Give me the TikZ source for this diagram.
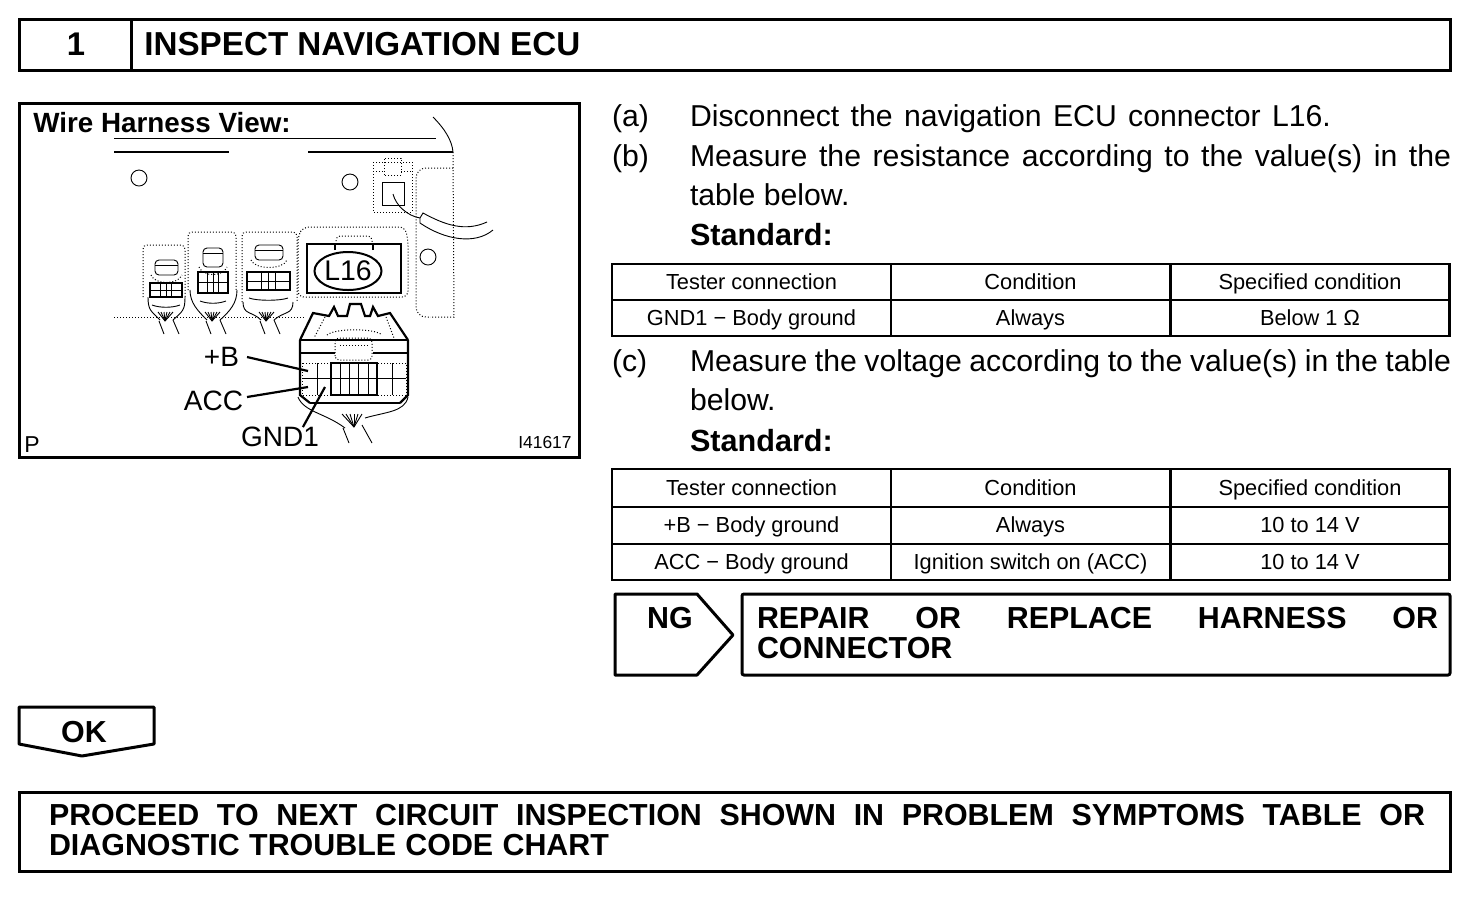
\documentclass[tikz,border=0pt]{standalone}
\usepackage{fontspec}
\usetikzlibrary{shapes.geometric}
\setmainfont{Liberation Sans}
\begin{document}
\begin{tikzpicture}[x=0.5pt,y=-0.5pt,>=latex]
        % Styles
        \tikzstyle{frame} = [rectangle, draw, line width=1.5pt, inner sep=0pt, outer sep=0pt]
        \tikzstyle{cell} = [rectangle, draw, line width=1.1pt, inner sep=0pt, outer sep=0pt,
                            minimum width=139.5pt, text height=9pt, text depth=1.6pt,
                            font=\fontsize{10.9}{13}\selectfont]
        \tikzstyle{body} = [inner sep=0pt, outer sep=0pt, anchor=north west,
                            font=\fontsize{15.1}{19.8}\selectfont]
        \tikzstyle{strong} = [inner sep=0pt, outer sep=0pt, anchor=north west, align=left,
                              font=\bfseries\fontsize{15.2}{15}\selectfont]
        \tikzstyle{wire} = [line width=0.45pt]
        \tikzstyle{shell} = [line width=0.5pt, densely dotted]
        \tikzstyle{heavy} = [line width=1.1pt]
        \tikzstyle{callout} = [inner sep=0pt, outer sep=0pt, font=\fontsize{14}{16}\selectfont]
        \useasboundingbox (0,0) rectangle (1472,902);

        % ==== Title bar ====
        \node[frame, minimum width=56pt, minimum height=25.5pt, font=\bfseries\fontsize{16.4}{18}\selectfont] (stepno) at (75,44.5) {\hspace{1pt}1};
        \node[frame, minimum width=659.5pt, minimum height=25.5pt] (steptitle) at (790.5,44.5) {};
        \node[inner sep=0pt, anchor=west, font=\bfseries\fontsize{16.6}{18}\selectfont] (titletext) at (144,44.5) {INSPECT NAVIGATION ECU};

        % ==== Harness view frame ====
        \node[frame, minimum width=280pt, minimum height=177pt] (view) at (299,280) {};
        \node[inner sep=0pt, anchor=west, font=\bfseries\fontsize{13.9}{16}\selectfont] (viewtitle) at (33,123) {Wire Harness View:};
        \node[inner sep=0pt, anchor=west, font=\fontsize{11.5}{13}\selectfont] (pmark) at (24,445) {P};
        \node[inner sep=0pt, anchor=east, font=\fontsize{8.7}{11}\selectfont] (artno) at (572,442) {I41617};

        % Panel
        \draw[wire] (114,138) -- (436,138);
        \draw[line width=0.8pt] (114,152) -- (229,152);
        \draw[line width=0.8pt] (308,152) -- (453,152);
        \draw[wire] (433,117) .. controls (444,128) and (452,140) .. (453,152);
        \draw[shell] (453,152) -- (454,317) -- (430,317);
        \draw[shell,rounded corners=5pt] (453,168) -- (416,168) -- (416,317) -- (430,317);
        \draw[shell] (114,317) -- (305,317);
        \draw[wire] (139,178) circle [radius=8];
        \draw[wire] (350,182) circle [radius=8];
        \draw[wire] (428,257) circle [radius=8];

        % Small clip and cable
        \draw[shell] (373,162) rectangle (412,212);
        \draw[shell] (373,171) -- (384,171) (401,171) -- (412,171);
        \draw[shell] (384,175) -- (384,158) -- (401,158) -- (401,175) -- cycle;
        \draw[wire] (382,182) rectangle (404,205);
        \draw[wire] (393,194) .. controls (396,206) and (408,216) .. (420,218);
        \draw[wire] (420,218) -- (423,213) .. controls (445,225) and (465,232) .. (487,222);
        \draw[wire] (420,218) -- (420,223) .. controls (445,240) and (475,245) .. (493,230);

        % Small connectors
        \foreach \lft/\rgt/\ctop/\tabl/\tabr/\tabt/\tabb/\grl/\grr/\grt/\grb/\bul/\bur/\buy/\nk in
            {143/185/245/155/178/260/275/150/182/283/297/148/185/297/165,
             188/236/232/203/223/248/267/198/228/272/293/190/237/290/212,
             242/297/232/255/283/245/260/247/290/272/290/243/293/302/266}{
            \draw[shell,rounded corners=2pt] (\lft,\buy) -- (\lft,\ctop) -- (\rgt,\ctop) -- (\rgt,\buy);
            \draw[wire,rounded corners=2pt] (\tabl,\tabb) -- (\tabl,\tabt) -- (\tabr,\tabt) -- (\tabr,\tabb) -- cycle;
            \draw[wire] (\tabl,\tabt+5) -- (\tabr,\tabt+5);
            \draw[shell] (\tabl-4,\tabb) .. controls (\tabl,\tabb+10) and (\tabr,\tabb+10) .. (\tabr+4,\tabb);
            \draw[line width=0.6pt] (\grl,\grt) rectangle (\grr,\grb);
            \draw[wire] (\grl,\grt*0.5+\grb*0.5) -- (\grr,\grt*0.5+\grb*0.5);
            \foreach \k in {0.33,0.5,0.67}
                \draw[wire] (\grl+\grr*\k-\grl*\k,\grt) -- (\grl+\grr*\k-\grl*\k,\grb);
            \draw[wire] (\grl+2,\grb+8) .. controls (\grl+10,\grb+11) and (\grr-10,\grb+11) .. (\grr-2,\grb+8);
            \draw[wire] (\bul,\buy) .. controls (\bul,\buy+13) and (\nk-14,311) .. (\nk-5,320);
            \draw[wire] (\bur,\buy) .. controls (\bur,\buy+13) and (\nk+18,311) .. (\nk+8,320);
            \foreach \k in {-7,-4,-1,2,5,8}
                \draw[wire] (\nk,321) -- (\nk+\k,312);
            \draw[wire] (\nk-6,321) -- (\nk-1,334);
            \draw[wire] (\nk+8,320) -- (\nk+14,334);
        }

        % L16 housing
        \draw[shell,rounded corners=3pt] (298,297) -- (298,236) -- (303,227) -- (405,227) -- (408,240) -- (408,297) -- cycle;
        \draw[line width=1pt] (307,293) rectangle (401,244);
        \draw[line width=1pt] (335,250) -- (335,244) (373,250) -- (373,244);
        \draw[shell,rounded corners=2pt] (336,244) -- (336,236) -- (372,236) -- (372,244);
        \node[ellipse, draw, line width=1pt, minimum width=33pt, minimum height=19pt, inner sep=0pt, fill=white, font=\fontsize{14.2}{17}\selectfont] (tagname) at (348,271) {L16};

        % Main connector
        \draw[heavy] (300,340) -- (313,313) -- (329,316) -- (334,307) -- (338,316) -- (347,316) -- (350,304) -- (361,304) -- (365,316) -- (370,316) -- (373,307) -- (378,316) -- (390,313) -- (408,340);
        \draw[heavy] (300,340) -- (408,340);
        \draw[heavy] (300,353) -- (335,353) (373,353) -- (408,353);
        \draw[heavy] (300,340) -- (300,395) -- (310,403);
        \draw[heavy] (408,340) -- (408,395) -- (400,403);
        \draw[line width=1.4pt] (310,403) -- (400,403);
        \draw[shell] (327,335) .. controls (335,328) and (375,328) .. (382,335);
        \draw[shell] (325,317) -- (314,338) (386,317) -- (394,338);
        \draw[shell,rounded corners=2pt] (335,360) -- (335,338) -- (372,338) -- (372,360) -- cycle;
        \draw[shell] (340,345) -- (368,345);
        \draw[shell] (302,363) rectangle (406,395);
        \draw[line width=0.6pt] (331,363) rectangle (377,395);
        \foreach \gx in {317,340,349,358,368,392}
            \draw[wire] (\gx,363) -- (\gx,395);
        \draw[wire] (302,378) -- (406,378);
        \draw[wire] (298,397) .. controls (304,412) and (325,413) .. (345,428);
        \draw[wire] (408,397) .. controls (405,412) and (385,412) .. (365,418);
        \foreach \k in {-12,-8,-4,0,4,8}
            \draw[wire] (354,427) -- (354+\k,414);
        \draw[wire] (343,428) -- (349,443);
        \draw[wire] (362,425) -- (372,443);

        % Callouts
        \node[callout, anchor=east] (plusb) at (239,357) {+B};
        \node[callout, anchor=east] (accpin) at (243,401) {ACC};
        \node[callout] (gndpin) at (280,437) {GND1};
        \coordinate (plusbend) at (308,371);
        \coordinate (accend) at (308,387);
        \coordinate (gndend) at (325,387);
        \draw[heavy] (plusb.east) ++(8,0) -- (plusbend);
        \draw[heavy] (accpin.east) ++(4,-4) -- (accend);
        \draw[heavy] (gndpin.north east) ++(-16,0) -- (gndend);

        % ==== Procedure text ====
        \node[body] (itema) at (612,104.5) {(a)};
        \node[body] (texta) at (690,104.5) {\makebox[320.5pt][s]{Disconnect the navigation ECU connector L16.}};
        \node[body] (itemb) at (612,144.5) {(b)};
        \node[body, text width=380.5pt, align=justify] (textb) at (690,144.5) {Measure the resistance according to the value(s) in the table below.};
        \node[body, font=\bfseries\fontsize{15.3}{19.8}\selectfont] (stda) at (690,223.5) {Standard:};

        % ==== Resistance table ====
        \node[cell, minimum height=18pt] (ra) at (751.5,282) {Tester connection};
        \node[cell, minimum height=18pt] (rb) at (1030.5,282) {Condition};
        \node[cell, minimum height=18pt] (rc) at (1310,282) {Specified condition};
        \node[cell, minimum height=18pt] (rd) at (751.5,318) {GND1 − Body ground};
        \node[cell, minimum height=18pt] (re) at (1030.5,318) {Always};
        \node[cell, minimum height=18pt] (rf) at (1310,318) {Below 1 Ω};

        \node[body] (itemc) at (612,349.5) {(c)};
        \node[body, text width=380.5pt, align=justify] (textc) at (690,349.5) {Measure the voltage according to the value(s) in the table below.};
        \node[body, font=\bfseries\fontsize{15.3}{19.8}\selectfont] (stdb) at (690,429.5) {Standard:};

        % ==== Voltage table ====
        \node[cell, minimum height=19pt] (va) at (751.5,488) {Tester connection};
        \node[cell, minimum height=19pt] (vb) at (1030.5,488) {Condition};
        \node[cell, minimum height=19pt] (vc) at (1310,488) {Specified condition};
        \node[cell, minimum height=18.5pt] (vd) at (751.5,525.5) {+B − Body ground};
        \node[cell, minimum height=18.5pt] (ve) at (1030.5,525.5) {Always};
        \node[cell, minimum height=18.5pt] (vf) at (1310,525.5) {10 to 14 V};
        \node[cell, minimum height=18pt] (vg) at (751.5,562) {ACC − Body ground};
        \node[cell, minimum height=18pt] (vh) at (1030.5,562) {Ignition switch on (ACC)};
        \node[cell, minimum height=18pt] (vi) at (1310,562) {10 to 14 V};

        % ==== NG branch ====
        \draw[line width=1.5pt, line join=round] (615,594) -- (697,594) -- (733,635) -- (697,675) -- (615,675) -- cycle;
        \node[inner sep=0pt, font=\bfseries\fontsize{15.2}{17}\selectfont] (nglabel) at (670,618) {NG};
        \node[frame, minimum width=354pt, minimum height=40.5pt, rounded corners=1pt] (ngbox) at (1096,634.5) {};
        \node[strong] (ngtext) at (757,607.5) {\makebox[340.5pt][s]{REPAIR OR REPLACE HARNESS OR}\\CONNECTOR};

        % ==== OK branch ====
        \draw[line width=1.5pt, line join=round] (19,707) -- (154,707) -- (154,744) -- (82,756) -- (19,744) -- cycle;
        \node[inner sep=0pt, font=\bfseries\fontsize{15.2}{17}\selectfont] (oklabel) at (84,732) {OK};
        \node[frame, minimum width=715.5pt, minimum height=39.5pt] (okbox) at (734.5,831.5) {};
        \node[strong] (oktext) at (49,804.5) {\makebox[688pt][s]{PROCEED TO NEXT CIRCUIT INSPECTION SHOWN IN PROBLEM SYMPTOMS TABLE OR}\\\makebox[280pt][s]{DIAGNOSTIC TROUBLE CODE CHART}};
    \end{tikzpicture}
\end{document}
